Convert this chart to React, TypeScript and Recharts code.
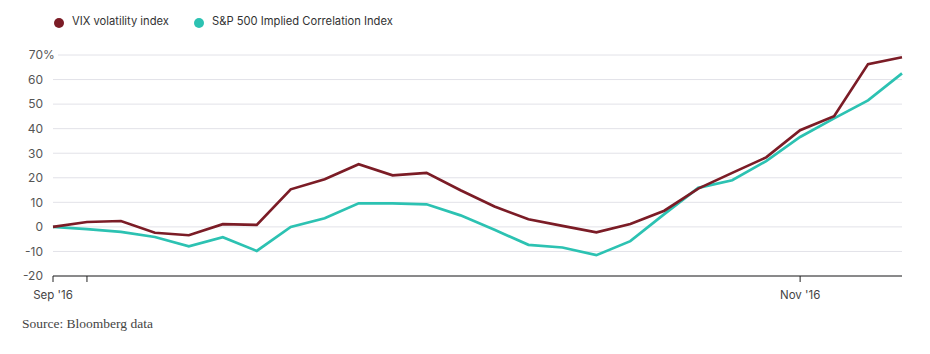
import React from 'react';
import { LineChart, Line, XAxis, YAxis, CartesianGrid } from 'recharts';

// weekly observations, percent change
const vix = [
  0, 2.0, 2.4, -2.4, -3.4, 1.1, 0.8, 15.3, 19.4, 25.5, 21.0, 22.0, 14.9,
  8.3, 3.1, 0.4, -2.2, 1.2, 6.6, 15.6, 22.0, 28.3, 39.4, 45.1, 66.3, 69.1,
];
const impliedCorr = [
  0, -0.9, -2.0, -4.1, -7.9, -4.2, -9.8, 0, 3.5, 9.6, 9.6, 9.2, 4.7,
  -1.2, -7.3, -8.4, -11.5, -5.8, 5.2, 15.9, 19.0, 26.8, 36.6, 44.2, 51.5, 62.5,
];
const xTicks = [0, 1, 22];
const xTickLabels = ["Sep '16", '', "Nov '16"];
const yTicks = [-20, -10, 0, 10, 20, 30, 40, 50, 60, 70];

const RED = '#7b1c26';
const TEAL = '#2cc2b2';
const SANS = 'Inter, "Noto Sans", Arial, sans-serif';

const data = vix.map((v, i) => ({ i, vix: v, corr: impliedCorr[i] }));

const YTick = (props: any) => {
  const { x, y, payload } = props;
  const top = payload.value === yTicks[yTicks.length - 1];
  return (
    <g>
      {top && <rect x={x} y={y - 3} width={15} height={6} fill="#fff" />}
      <text x={x} y={y} dy="0.36em" textAnchor="end" fill="#555" fontSize={12} fontFamily={SANS}>
        {payload.value}
      </text>
      {top && (
        <text x={x} y={y} dy="0.36em" textAnchor="start" fill="#555" fontSize={12} fontFamily={SANS}>
          %
        </text>
      )}
    </g>
  );
};

const LegendItem = ({ color, label, left }: { color: string; label: string; left: number }) => (
  <div style={{ position: 'absolute', left, top: 13, display: 'flex', alignItems: 'center', fontFamily: SANS, fontSize: 11.2, color: '#333' }}>
    <span style={{ width: 10, height: 10, borderRadius: 5, background: color, display: 'inline-block', marginRight: 8, marginTop: 5 }} />
    {label}
  </div>
);

export default function App() {
  return (
    <div style={{ position: 'absolute', left: 0, top: 0, width: 930, height: 354, background: '#fff' }}>
      <LegendItem color={RED} label="VIX volatility index" left={54} />
      <LegendItem color={TEAL} label="S&P 500 Implied Correlation Index" left={194} />
      <LineChart width={930} height={354} data={data} margin={{ top: 55, right: 28, left: 0, bottom: 48 }}>
        <CartesianGrid vertical={false} stroke="#e2e2e8" />
        <XAxis
          dataKey="i"
          type="number"
          domain={[0, vix.length - 1]}
          ticks={xTicks}
          tickFormatter={(v: number) => xTickLabels[xTicks.indexOf(v)] ?? ''}
          interval={0}
          height={30}
          tickSize={6}
          tickMargin={9}
          axisLine={{ stroke: '#222' }}
          tickLine={{ stroke: '#222' }}
          tick={{ fill: '#444', fontSize: 11.5, fontFamily: SANS }}
        />
        <YAxis
          domain={[-20, 70]}
          ticks={yTicks}
          width={53}
          axisLine={false}
          tickLine={false}
          tickMargin={4}
          tick={<YTick />}
          interval={0}
        />
        <Line type="linear" dataKey="corr" stroke={TEAL} strokeWidth={2.7} dot={false} isAnimationActive={false} />
        <Line type="linear" dataKey="vix" stroke={RED} strokeWidth={2.7} dot={false} isAnimationActive={false} />
      </LineChart>
      <div style={{ position: 'absolute', left: 22, top: 316, fontFamily: '"Liberation Serif", "DejaVu Serif", serif', fontSize: 13.5, color: '#444' }}>
        Source: Bloomberg data
      </div>
    </div>
  );
}
